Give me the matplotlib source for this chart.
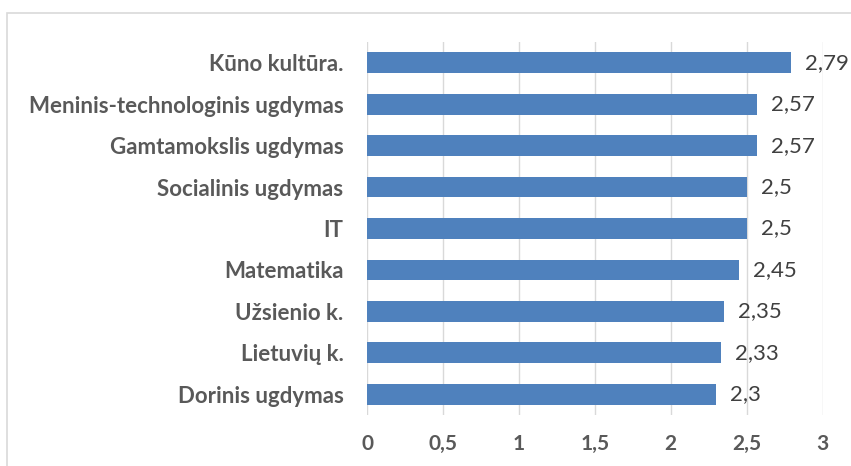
import matplotlib.pyplot as plt
from matplotlib.patches import Rectangle

# -----------------------------
# data (bottom to top)
# -----------------------------
subjects = ["Dorinis ugdymas", "Lietuvių k.", "Užsienio k.", "Matematika", "IT",
            "Socialinis ugdymas", "Gamtamokslis ugdymas",
            "Meninis-technologinis ugdymas", "Kūno kultūra."]
scores = [2.3, 2.33, 2.35, 2.45, 2.5, 2.5, 2.57, 2.57, 2.79]
score_labels = ["2,3", "2,33", "2,35", "2,45", "2,5", "2,5", "2,57", "2,57", "2,79"]
xticks = [0, 0.5, 1, 1.5, 2, 2.5, 3]
xtick_labels = ["0", "0,5", "1", "1,5", "2", "2,5", "3"]

plt.rcParams['font.family'] = ['Lato', 'DejaVu Sans']

fig = plt.figure(figsize=(8.51, 4.66), dpi=100)
ax = fig.add_axes([0.4313, 0.1094, 0.5354, 0.8005])

# chart area border (top + left visible)
fig.patches.append(Rectangle((7 / 851, -0.1), 1.0, (466 - 13) / 466 + 0.1,
                             transform=fig.transFigure, fill=False,
                             edgecolor="#D9D9D9", linewidth=1.2))

y = range(len(subjects))
ax.barh(y, scores, height=0.5, color="#4F81BD", zorder=3)

for yi, v, lab in zip(y, scores, score_labels):
    ax.annotate(lab, (v, yi), xytext=(10, 0), textcoords="offset points",
                va="center", ha="left", fontsize=16, color="#404040")

ax.set_xlim(0, 3)
ax.set_ylim(-0.5, len(subjects) - 0.5)
ax.set_xticks(xticks)
ax.set_xticklabels(xtick_labels, fontsize=15, fontweight="bold", color="#595959")
ax.set_yticks(list(y))
ax.set_yticklabels(subjects, fontsize=16, fontweight="bold", color="#595959")
ax.tick_params(axis="both", length=0)
ax.tick_params(axis="x", pad=14)
ax.tick_params(axis="y", pad=17)

ax.grid(axis="x", color="#D9D9D9", linewidth=1, zorder=0)
for s in ax.spines.values():
    s.set_visible(False)

fig.savefig("out.png", dpi=100)
